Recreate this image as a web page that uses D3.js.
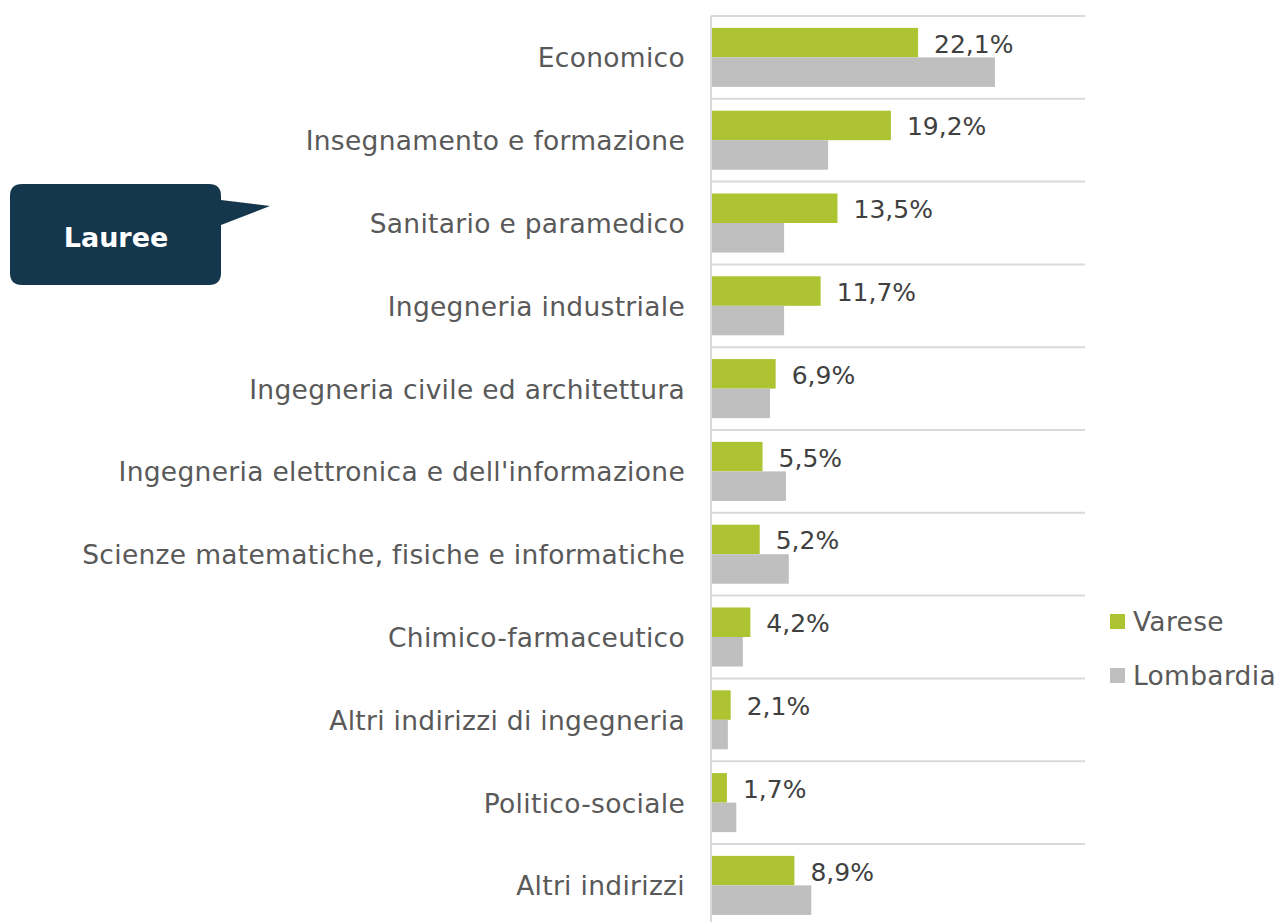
<html>
<head>
<script src="https://d3js.org/d3.v7.min.js"></script>
<style>
  body { margin: 0; background: #fff; }
  text { font-family: "DejaVu Sans", sans-serif; letter-spacing: 0.3px; }
</style>
</head>
<body>
<div id="chart"></div>
<script>
var categories = ["Economico", "Insegnamento e formazione", "Sanitario e paramedico",
  "Ingegneria industriale", "Ingegneria civile ed architettura",
  "Ingegneria elettronica e dell'informazione", "Scienze matematiche, fisiche e informatiche",
  "Chimico-farmaceutico", "Altri indirizzi di ingegneria", "Politico-sociale", "Altri indirizzi"];
var varese = [22.1, 19.2, 13.5, 11.7, 6.9, 5.5, 5.2, 4.2, 2.1, 1.7, 8.9];
var lombardia = [30.3, 12.5, 7.8, 7.8, 6.3, 8.0, 8.3, 3.4, 1.8, 2.7, 10.7];
var seriesNames = ["Varese", "Lombardia"];
var colors = ["#adc332", "#bfbfbf"];

var W = 1281, H = 922;
var plotLeft = 711, plotTop = 16, gridRight = 1085;

var svg = d3.select("#chart").append("svg")
  .attr("width", W).attr("height", H);

var x = d3.scaleLinear().domain([0, 40]).range([plotLeft, plotLeft + 40 * 9.37]);
var y = d3.scaleBand().domain(categories).range([plotTop, plotTop + 11 * 82.8])
  .paddingInner(0.287).paddingOuter(0.1435);

// gridlines at band boundaries
var step = y.step();
svg.selectAll(".grid")
  .data(d3.range(categories.length + 1))
  .enter().append("line")
  .attr("x1", plotLeft).attr("x2", gridRight)
  .attr("y1", function(i) { return plotTop + i * step; })
  .attr("y2", function(i) { return plotTop + i * step; })
  .style("stroke", "#d9d9d9").style("stroke-width", 2);

var data = categories.map(function(c, i) { return {cat: c, v: varese[i], l: lombardia[i]}; });
var bh = y.bandwidth() / 2;

svg.selectAll(".bv").data(data).enter().append("rect")
  .attr("x", x(0)).attr("y", function(d) { return y(d.cat); })
  .attr("width", function(d) { return x(d.v) - x(0); })
  .attr("height", bh).style("fill", colors[0]);

svg.selectAll(".bl").data(data).enter().append("rect")
  .attr("x", x(0)).attr("y", function(d) { return y(d.cat) + bh; })
  .attr("width", function(d) { return x(d.l) - x(0); })
  .attr("height", bh).style("fill", colors[1]);

// axis line
svg.append("line")
  .attr("x1", plotLeft).attr("x2", plotLeft).attr("y1", plotTop).attr("y2", H)
  .style("stroke", "#d9d9d9").style("stroke-width", 2);

// value labels
svg.selectAll(".vl").data(data).enter().append("text")
  .attr("x", function(d) { return x(d.v) + 16; })
  .attr("y", function(d) { return y(d.cat) + bh / 2 + 10; })
  .style("font-size", "25px").style("fill", "#404040").style("letter-spacing", "0px")
  .text(function(d) { return d.v.toFixed(1).replace(".", ",") + "%"; });

// category labels
svg.selectAll(".cl").data(data).enter().append("text")
  .attr("x", 685).attr("text-anchor", "end")
  .attr("y", function(d) { return y(d.cat) + bh + 10; })
  .style("font-size", "26.5px").style("fill", "#595959")
  .text(function(d) { return d.cat; });

// legend
var legend = svg.selectAll(".lg").data(seriesNames).enter().append("g")
  .attr("transform", function(d, i) { return "translate(1110," + (614 + i * 54) + ")"; });
legend.append("rect").attr("width", 15).attr("height", 15)
  .style("fill", function(d, i) { return colors[i]; });
legend.append("text").attr("x", 23).attr("y", 17)
  .style("font-size", "26.5px").style("fill", "#595959")
  .text(function(d) { return d; });

// callout
svg.append("path")
  .attr("d", "M22,184 H209 Q221,184 221,196 V200 L270,206 L221,225 V273 Q221,285 209,285 H22 Q10,285 10,273 V196 Q10,184 22,184 Z")
  .style("fill", "#15374d");
svg.append("text").attr("x", 116).attr("y", 247).attr("text-anchor", "middle")
  .style("font-size", "27px").style("font-weight", "bold").style("fill", "#fff")
  .style("letter-spacing", "0px")
  .text("Lauree");
</script>
</body>
</html>
